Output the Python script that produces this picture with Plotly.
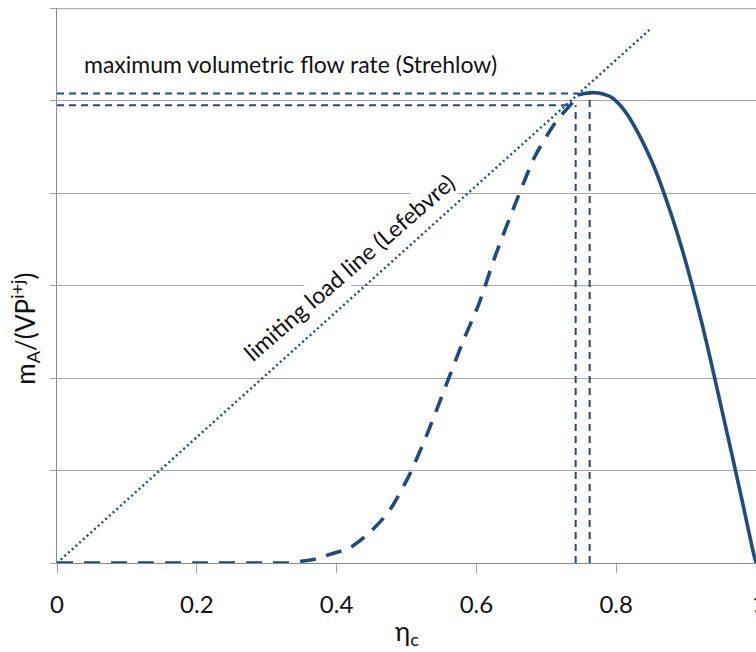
import plotly.graph_objects as go

# ---- data ----
dashed_x = [0.0, 0.1, 0.2, 0.3, 0.332, 0.351, 0.38, 0.389, 0.418, 0.446, 0.475,
            0.504, 0.532, 0.556, 0.580, 0.604, 0.627, 0.656, 0.684, 0.713, 0.739]
dashed_y = [0.0, 0.0, 0.0, 0.0, 0.0, 0.02, 0.06, 0.09, 0.16, 0.32, 0.56,
            0.95, 1.44, 1.91, 2.38, 2.81, 3.32, 3.89, 4.40, 4.76, 4.99]

solid_x = [0.745, 0.755, 0.765, 0.775, 0.794, 0.813, 0.832, 0.851, 0.865, 0.880,
           0.894, 0.908, 0.923, 0.937, 0.951, 0.965, 0.980, 0.996, 1.0]
solid_y = [5.06, 5.075, 5.085, 5.08, 5.03, 4.88, 4.64, 4.34, 4.07, 3.74,
           3.40, 3.02, 2.58, 2.13, 1.66, 1.19, 0.68, 0.12, 0.0]

load_x = [0.0, 0.85]
load_y = [0.0, 5.78]

ref_h_y = [4.95, 5.076]
ref_h_xend = [0.735, 0.745]
ref_v_x = [0.742, 0.762]
ref_v_ytop = [4.95, 5.076]

x_ticks = [0, 0.2, 0.4, 0.6, 0.8]
x_ticklabels = ["0", "0.2", "0.4", "0.6", "0.8"]
x_last_tick = 1
x_last_label = "1"
y_grid = [0, 1, 2, 3, 4, 5, 6]

label_max = "maximum volumetric flow rate (Strehlow)"
label_load = "limiting load line (Lefebvre)"
x_title = "η<sub>c</sub>"
y_title = "m<sub>A</sub>/(VP<sup>i+j</sup>)"

BLUE = "#1f4b80"
FONT = "Lato"
TXT = "#111111"

fig = go.Figure()

# reference dashed lines
for yv, xe in zip(ref_h_y, ref_h_xend):
    fig.add_trace(go.Scatter(x=[0, xe], y=[yv, yv], mode="lines",
                             line=dict(color=BLUE, width=2, dash="7px,5px"),
                             hoverinfo="skip", showlegend=False))
for xv, yt in zip(ref_v_x, ref_v_ytop):
    fig.add_trace(go.Scatter(x=[xv, xv], y=[0, yt], mode="lines",
                             line=dict(color=BLUE, width=2, dash="7px,5px"),
                             hoverinfo="skip", showlegend=False))

# limiting load line
fig.add_trace(go.Scatter(x=load_x, y=load_y, mode="lines",
                         line=dict(color=BLUE, width=2.4, dash="2px,3px"),
                         hoverinfo="skip", showlegend=False))

# dashed curve
fig.add_trace(go.Scatter(x=dashed_x, y=dashed_y, mode="lines",
                         line=dict(color=BLUE, width=3.6, dash="16px,11px", shape="spline", smoothing=0.7),
                         hoverinfo="skip", showlegend=False))

# solid curve
fig.add_trace(go.Scatter(x=solid_x, y=solid_y, mode="lines",
                         line=dict(color=BLUE, width=3.6, shape="spline", smoothing=0.8),
                         hoverinfo="skip", showlegend=False, cliponaxis=False))

fig.update_layout(
    width=756, height=652,
    margin=dict(l=57, r=0, t=8, b=89),
    paper_bgcolor="white", plot_bgcolor="white",
    font=dict(family=FONT, size=24, color=TXT),
    showlegend=False,
    xaxis=dict(range=[0, 1], tickvals=x_ticks + [x_last_tick], ticktext=x_ticklabels + [""],
               showgrid=False, zeroline=False, showline=True, linecolor="#8c8c8c",
               linewidth=1, ticks="outside", ticklen=9, tickcolor="#a0a0a0",
               ticklabelstandoff=11,
               tickfont=dict(family=FONT, size=24, color=TXT), fixedrange=True),
    yaxis=dict(range=[0, 6], tickvals=y_grid, showticklabels=False,
               showgrid=True, gridcolor="#a6a6a6", gridwidth=1, zeroline=False,
               showline=True, linecolor="#8c8c8c", linewidth=1,
               ticks="outside", ticklen=6, tickcolor="#a0a0a0", fixedrange=True),
)

# top border
fig.add_shape(type="line", xref="paper", yref="y", x0=0, x1=1, y0=6, y1=6,
              line=dict(color="#b0b0b0", width=2.5), layer="below")

# partially visible last tick label at the right edge
fig.add_annotation(text=x_last_label, xref="x", yref="paper", x=x_last_tick, y=0,
                   yshift=-39, xshift=3, xanchor="center", yanchor="middle", showarrow=False,
                   font=dict(family=FONT, size=24, color=TXT))

fig.add_annotation(text=label_max, xref="x", yref="y", x=0.036, y=5.39,
                   xanchor="left", yanchor="middle", showarrow=False,
                   font=dict(family=FONT, size=23, color=TXT))
fig.add_annotation(text=label_load, xref="x", yref="y", x=0.418, y=3.2,
                   xanchor="center", yanchor="middle", showarrow=False, textangle=-41,
                   bgcolor="white",
                   font=dict(family=FONT, size=23, color=TXT))
fig.add_annotation(text=x_title, xref="paper", yref="paper", x=0.5, y=-0.125,
                   xanchor="center", yanchor="middle", showarrow=False,
                   font=dict(family=FONT, size=26, color=TXT))
fig.add_annotation(text=y_title, xref="paper", yref="paper", x=-0.046, y=0.422,
                   xanchor="center", yanchor="middle", showarrow=False, textangle=-90,
                   font=dict(family=FONT, size=26, color=TXT))

fig.write_html("out.html")
